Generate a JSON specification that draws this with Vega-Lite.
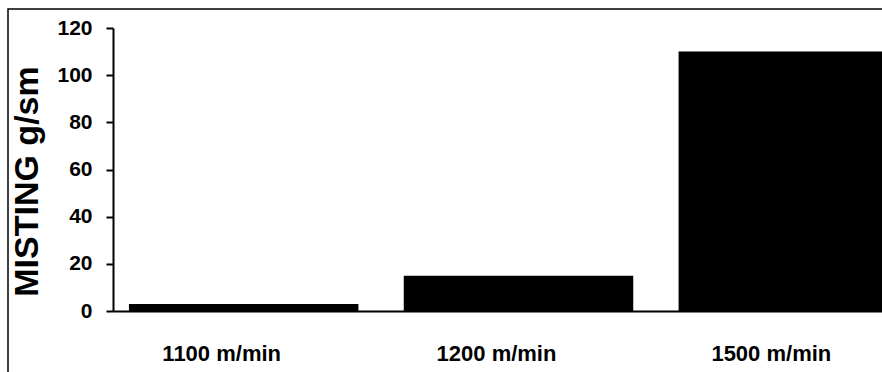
{
  "$schema": "https://vega.github.io/schema/vega-lite/v6.json",
  "width": 900,
  "height": 380,
  "autosize": "none",
  "padding": {"left": 8, "top": 9, "right": 0, "bottom": 0},
  "background": "white",
  "config": {
    "view": {"stroke": "black", "strokeWidth": 1.5},
    "font": "Liberation Sans"
  },
  "data": {
    "values": [
      {"speed": "1100 m/min", "misting": 3},
      {"speed": "1200 m/min", "misting": 15},
      {"speed": "1500 m/min", "misting": 110}
    ]
  },
  "mark": {"type": "bar", "color": "black"},
  "encoding": {
    "x": {
      "field": "speed",
      "type": "nominal",
      "sort": null,
      "scale": {"range": [105, 916], "paddingInner": 0.165, "paddingOuter": 0.058},
      "axis": {
        "title": null,
        "offset": -78,
        "ticks": false,
        "domainColor": "black",
        "domainWidth": 2,
        "labelFontSize": 22,
        "labelFontWeight": "bold",
        "labelColor": "black",
        "labelPadding": 32,
        "labelOffset": -22,
        "labelAngle": 0
      }
    },
    "y": {
      "field": "misting",
      "type": "quantitative",
      "scale": {"domain": [0, 120], "range": [302, 19], "nice": false},
      "axis": {
        "title": "MISTING g/sm",
        "offset": -105,
        "values": [0, 20, 40, 60, 80, 100, 120],
        "grid": false,
        "domainColor": "black",
        "domainWidth": 2,
        "tickColor": "black",
        "tickWidth": 2,
        "tickSize": 7,
        "labelFontSize": 21,
        "labelFontWeight": "bold",
        "labelColor": "black",
        "labelPadding": 14,
        "titleFontSize": 34,
        "titleFontWeight": "bold",
        "titleColor": "black",
        "titlePadding": 12,
        "titleY": 172
      }
    }
  }
}
